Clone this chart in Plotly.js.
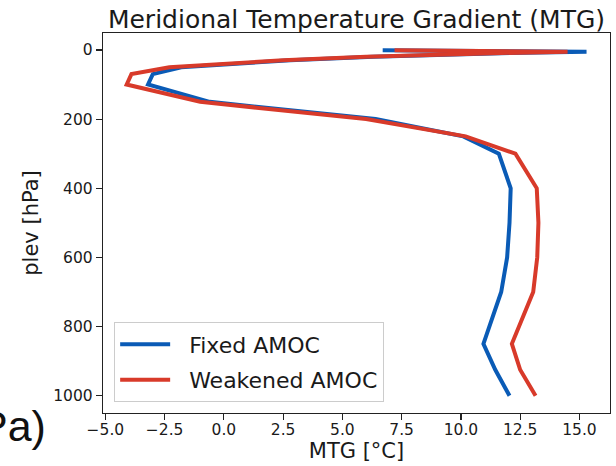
<!DOCTYPE html>
<html>
<head>
<meta charset="utf-8">
<script src="https://cdn.plot.ly/plotly-3.0.1.min.js"></script>
<style>
  html, body { margin: 0; padding: 0; background: #ffffff; }
  #chart { width: 616px; height: 466px; }
</style>
</head>
<body>
<div id="chart"></div>
<script>
// Pressure levels (hPa), plev19 standard set
const plev = [1, 5, 10, 20, 30, 50, 70, 100, 150, 200, 250, 300, 400, 500, 600, 700, 850, 925, 1000];

// Meridional temperature gradient profiles (°C)
const mtgFixed     = [6.7, 15.3, 11.3, 6.3, 2.8, -1.8, -3.0, -3.2, -0.6, 6.4, 10.1, 11.6, 12.1, 12.05, 11.95, 11.7, 10.95, 11.45, 12.05];
const mtgWeakened  = [7.2, 14.5, 11.0, 6.0, 2.5, -2.3, -3.9, -4.1, -1.0, 6.0, 10.2, 12.3, 13.2, 13.27, 13.22, 13.05, 12.15, 12.5, 13.15];

const seriesNames = ['Fixed AMOC', 'Weakened AMOC'];
const xTicks = [-5, -2.5, 0, 2.5, 5, 7.5, 10, 12.5, 15];
const yTicks = [0, 200, 400, 600, 800, 1000];

const FONT = 'DejaVu Sans, sans-serif';
const BLUE = '#0a5bb6';
const RED = '#d83a2a';
const GAP = '\u00a0\u00a0';

const traces = [
  { x: mtgFixed, y: plev, name: GAP + seriesNames[0], legendgroup: 'a', type: 'scatter', mode: 'lines',
    line: { color: BLUE, width: 4 } },
  { x: mtgWeakened, y: plev, name: GAP + seriesNames[1], legendgroup: 'b', type: 'scatter', mode: 'lines',
    line: { color: RED, width: 4 } }
];

const axisCommon = {
  showline: true, mirror: true, linecolor: '#222222', linewidth: 1.2,
  ticks: 'outside', ticklen: 6, tickwidth: 1.2, tickcolor: '#222222',
  showgrid: false, zeroline: false,
  tickfont: { family: FONT, size: 15.5, color: '#1a1a1a' },
  automargin: false
};

const layout = {
  width: 616, height: 466,
  margin: { l: 103, r: 6, t: 33, b: 53 },
  paper_bgcolor: '#ffffff', plot_bgcolor: '#ffffff',
  font: { family: FONT, color: '#1a1a1a' },
  title: {
    text: 'Meridional Temperature Gradient (MTG)',
    font: { family: FONT, size: 25, color: '#1a1a1a' },
    xref: 'paper', x: 0.5, xanchor: 'center',
    yref: 'paper', y: 1, yanchor: 'bottom', pad: { b: 5 }
  },
  xaxis: Object.assign({}, axisCommon, {
    range: [-5.1, 16.29],
    tickvals: xTicks, tickformat: '.1f',
    ticklabelstandoff: -4,
    title: { text: 'MTG [°C]', font: { family: FONT, size: 21, color: '#1a1a1a' }, standoff: 4 }
  }),
  yaxis: Object.assign({}, axisCommon, {
    range: [1050, -49],
    tickvals: yTicks,
    title: { text: 'plev [hPa]', font: { family: FONT, size: 21, color: '#1a1a1a' }, standoff: 8 }
  }),
  legend: {
    x: 0.022, y: 0.028, xanchor: 'left', yanchor: 'bottom',
    bgcolor: 'rgba(255,255,255,0.85)', bordercolor: '#cccccc', borderwidth: 1,
    font: { family: FONT, size: 22, color: '#1a1a1a' },
    itemwidth: 50, traceorder: 'grouped', tracegroupgap: 4
  },
  annotations: [{
    text: 'Pa)', xref: 'paper', yref: 'paper',
    x: -0.108, y: -0.034, xanchor: 'right', yanchor: 'middle',
    showarrow: false,
    font: { family: 'Liberation Sans, Arial, sans-serif', size: 43, color: '#111111' }
  }],
  showlegend: true
};

Plotly.newPlot('chart', traces, layout, { displayModeBar: false, staticPlot: true });
</script>
</body>
</html>
